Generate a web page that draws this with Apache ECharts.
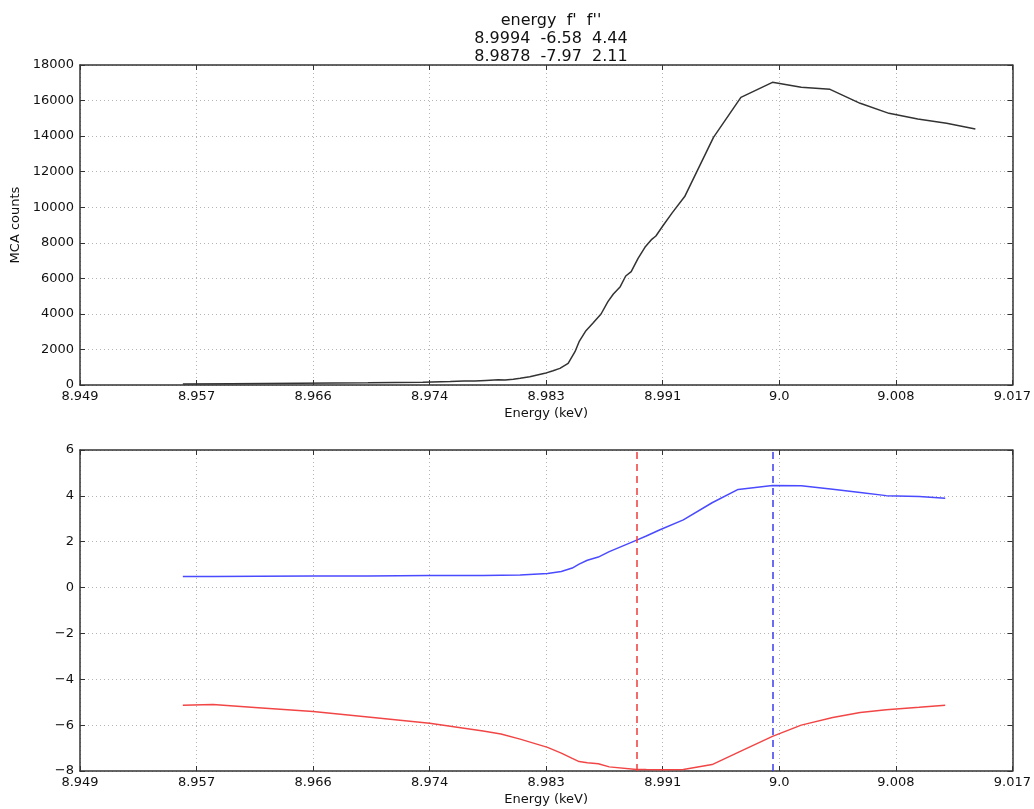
<!DOCTYPE html>
<html>
<head>
<meta charset="utf-8">
<title>MCA counts and f' f''</title>
<script src="https://cdn.jsdelivr.net/npm/echarts@6/dist/echarts.min.js"></script>
<style>
  html, body { margin: 0; padding: 0; background: #fff; }
  #chart { width: 1034px; height: 809px; }
</style>
</head>
<body>
<div id="chart"></div>
<script>
// x tick labels (evenly spaced, 0.0085 keV apart)
const tickLabels = ['8.949', '8.957', '8.966', '8.974', '8.983', '8.991', '9.0', '9.008', '9.017'];
const axisStart = 8.949;
const tickStep = 0.0085;

// top panel: MCA counts
const mcaEnergy = [8.9565, 8.9600, 8.9650, 8.9700, 8.9740, 8.9760, 8.9770, 8.9778, 8.9786, 8.9795,
  8.9800, 8.9806, 8.9811, 8.9818, 8.9829, 8.9835, 8.9840, 8.9846, 8.9851, 8.9854,
  8.9859, 8.9864, 8.9870, 8.9875, 8.9879, 8.9884, 8.9888, 8.9892, 8.9897, 8.9902,
  8.9907, 8.9910, 8.9915, 8.9922, 8.9931, 8.9952, 8.9972, 8.9995, 9.0016, 9.0037,
  9.0059, 9.0080, 9.0101, 9.0122, 9.0143];
const mcaCounts = [60, 75, 95, 120, 160, 190, 230, 220, 260, 290,
  280, 330, 375, 470, 655, 806, 937, 1218, 1875, 2437,
  3056, 3469, 3994, 4687, 5119, 5531, 6131, 6375, 7125, 7744,
  8194, 8381, 8944, 9694, 10600, 13931, 16181, 17025, 16744, 16631,
  15844, 15281, 14962, 14719, 14400];

// bottom panel: f' (red) and f'' (blue)
const fEnergy = [8.9565, 8.9587, 8.9620, 8.9660, 8.9700, 8.9745, 8.9784, 8.9797, 8.9811, 8.9831,
  8.9841, 8.9849, 8.9854, 8.9860, 8.9868, 8.9876, 8.9896, 8.9903, 8.9913, 8.9930,
  8.9951, 8.9970, 8.9995, 9.0016, 9.0039, 9.0059, 9.0078, 9.0102, 9.0121];
const fPrime = [-5.13, -5.10, -5.24, -5.41, -5.64, -5.92, -6.26, -6.39, -6.61, -6.97,
  -7.22, -7.45, -7.59, -7.64, -7.68, -7.82, -7.93, -7.94, -7.95, -7.93,
  -7.72, -7.19, -6.49, -6.00, -5.67, -5.45, -5.33, -5.22, -5.13];
const fDoublePrime = [0.48, 0.48, 0.49, 0.50, 0.51, 0.53, 0.53, 0.54, 0.55, 0.61,
  0.70, 0.85, 1.02, 1.19, 1.33, 1.57, 2.07, 2.25, 2.52, 2.95,
  3.70, 4.28, 4.45, 4.44, 4.29, 4.15, 4.01, 3.97, 3.90];

// dashed markers: f' minimum (red) and f'' maximum (blue)
const edgeEnergies = [8.9896, 8.9995];
const edgeColors = ['#f03c3c', '#3c3cf0'];

function toU(e) { return (e - axisStart) / tickStep; }
function pairs(xs, ys) { return xs.map((x, i) => [toU(x), ys[i]]); }

const font = 'DejaVu Sans';
const gridLine = { show: true, lineStyle: { color: '#b4b4b4', width: 1, type: [1, 3] } };
const tick = { show: true, inside: true, length: 5, lineStyle: { color: '#333' } };

function xAxisOf(gridIndex, main) {
  return {
    type: 'value', gridIndex: gridIndex, min: 0, max: 8, interval: 1,
    position: main ? 'bottom' : 'top',
    name: main ? 'Energy (keV)' : '', nameLocation: 'middle', nameGap: 22,
    nameTextStyle: { fontFamily: font, fontSize: 13, color: '#111' },
    axisLine: { show: true, onZero: false, lineStyle: { color: '#333', width: 1.5 } },
    axisTick: tick,
    axisLabel: main ? {
      show: true, margin: 5, fontFamily: font, fontSize: 13, color: '#111',
      formatter: v => tickLabels[Math.round(v)]
    } : { show: false },
    splitLine: main ? gridLine : { show: false }
  };
}

function yAxisOf(gridIndex, main, min, max, interval, name) {
  return {
    type: 'value', gridIndex: gridIndex, min: min, max: max, interval: interval,
    position: main ? 'left' : 'right',
    name: main ? name : '', nameLocation: 'middle', nameGap: 48,
    nameTextStyle: { fontFamily: font, fontSize: 13, color: '#111' },
    axisLine: { show: true, onZero: false, lineStyle: { color: '#333', width: 1.5 } },
    axisTick: tick,
    axisLabel: main ? {
      show: true, margin: 6, fontFamily: font, fontSize: 13, color: '#111',
      formatter: v => String(v).replace('-', '\u2212')
    } : { show: false },
    splitLine: main ? gridLine : { show: false }
  };
}

const chart = echarts.init(document.getElementById('chart'), null, { renderer: 'canvas' });

chart.setOption({
  animation: false,
  backgroundColor: '#fff',
  title: {
    text: "energy  f'  f''\n8.9994  -6.58  4.44\n8.9878  -7.97  2.11",
    left: 546, top: 7, textAlign: 'center',
    textStyle: { fontFamily: font, fontSize: 16, lineHeight: 18, fontWeight: 'normal', color: '#111' }
  },
  grid: [
    { left: 80, right: 21, top: 65, height: 320 },
    { left: 80, right: 21, top: 450, height: 321 }
  ],
  xAxis: [xAxisOf(0, true), xAxisOf(0, false), xAxisOf(1, true), xAxisOf(1, false)],
  yAxis: [
    yAxisOf(0, true, 0, 18000, 2000, 'MCA counts'),
    yAxisOf(0, false, 0, 18000, 2000),
    yAxisOf(1, true, -8, 6, 2),
    yAxisOf(1, false, -8, 6, 2)
  ],
  series: [
    {
      type: 'line', xAxisIndex: 0, yAxisIndex: 0,
      data: pairs(mcaEnergy, mcaCounts),
      showSymbol: false, lineStyle: { color: '#333', width: 1.5 }
    },
    {
      type: 'line', xAxisIndex: 2, yAxisIndex: 2,
      data: pairs(fEnergy, fDoublePrime),
      showSymbol: false, lineStyle: { color: '#4a4aff', width: 1.5 }
    },
    {
      type: 'line', xAxisIndex: 2, yAxisIndex: 2,
      data: pairs(fEnergy, fPrime),
      showSymbol: false, lineStyle: { color: '#f24646', width: 1.5 },
      markLine: {
        silent: true, symbol: 'none', label: { show: false },
        data: edgeEnergies.map((e, i) => ({
          xAxis: toU(e),
          lineStyle: { color: edgeColors[i], width: 1.5, type: [7, 5] }
        }))
      }
    }
  ]
});
</script>
</body>
</html>
